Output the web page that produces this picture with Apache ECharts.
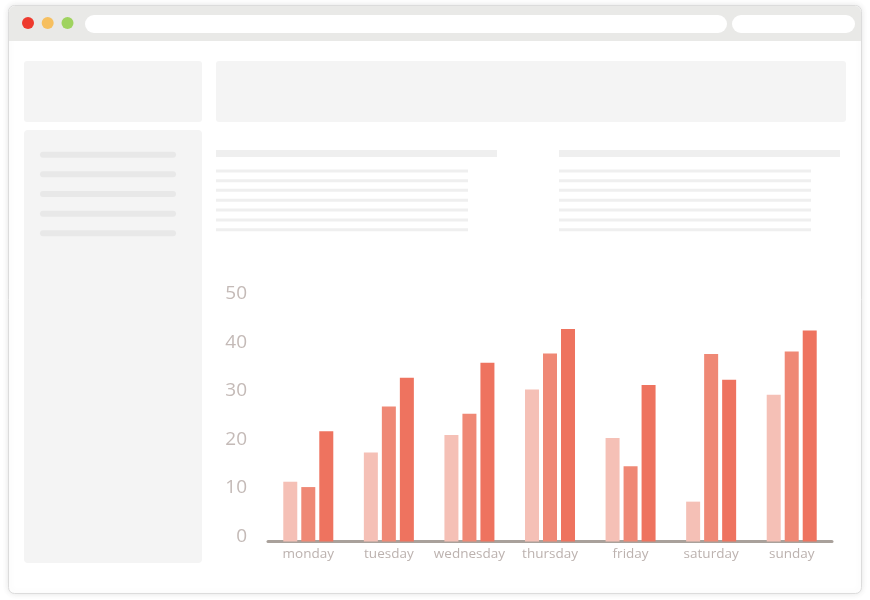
<!DOCTYPE html>
<html><head><meta charset="utf-8">
<script src="https://cdn.jsdelivr.net/npm/echarts@6/dist/echarts.min.js"></script>
<style>html,body{margin:0;padding:0;background:#fff}#c{width:870px;height:600px}</style>
</head><body><div id="c"></div>
<script>
const categories = ['monday', 'tuesday', 'wednesday', 'thursday', 'friday', 'saturday', 'sunday'];
const series1 = [12.3, 18.3, 21.9, 31.3, 21.3, 8.2, 30.2];
const series2 = [11.2, 27.8, 26.3, 38.7, 15.5, 38.6, 39.1];
const series3 = [22.7, 33.7, 36.8, 43.7, 32.2, 33.3, 43.4];
const yMin = 0, yMax = 50, yStep = 10;
const barColors = ['#f5c0b6', '#ef8875', '#ee735f'];

const FONT = '"Open Sans", "Noto Sans", sans-serif';
const light = '#f4f4f4', line = '#efefef';

const deco = [];
// window
deco.push({type:'rect', shape:{x:8.5,y:5.5,width:853,height:588,r:6}, style:{fill:'#fff', stroke:'#dcdcdc', lineWidth:1, shadowBlur:6, shadowColor:'rgba(0,0,0,0.10)'}, silent:true, z:-10});
deco.push({type:'rect', shape:{x:9,y:6,width:852,height:35,r:[6,6,0,0]}, style:{fill:'#e9e9e7'}, silent:true, z:-9});
deco.push({type:'circle', shape:{cx:28,cy:23,r:6}, style:{fill:'#ee3a2e'}, silent:true, z:-8});
deco.push({type:'circle', shape:{cx:47.7,cy:23,r:6}, style:{fill:'#f6bf5f'}, silent:true, z:-8});
deco.push({type:'circle', shape:{cx:67.5,cy:23,r:6}, style:{fill:'#9fd35f'}, silent:true, z:-8});
deco.push({type:'rect', shape:{x:85,y:15,width:642,height:18,r:9}, style:{fill:'#fff'}, silent:true, z:-8});
deco.push({type:'rect', shape:{x:732,y:15,width:123,height:18,r:9}, style:{fill:'#fff'}, silent:true, z:-8});
// boxes
deco.push({type:'rect', shape:{x:24,y:61,width:178,height:61,r:3}, style:{fill:light}, silent:true, z:-8});
deco.push({type:'rect', shape:{x:216,y:61,width:630,height:61,r:3}, style:{fill:light}, silent:true, z:-8});
deco.push({type:'rect', shape:{x:24,y:130,width:178,height:433,r:4}, style:{fill:light}, silent:true, z:-8});
[151.7, 171.3, 191, 210.7, 230.3].forEach(y => deco.push({type:'rect', shape:{x:40,y:y,width:136,height:6,r:3}, style:{fill:'#e8e8e8'}, silent:true, z:-7}));
deco.push({type:'rect', shape:{x:216,y:150,width:281,height:7}, style:{fill:line}, silent:true, z:-7});
deco.push({type:'rect', shape:{x:559,y:150,width:281,height:7}, style:{fill:line}, silent:true, z:-7});
[171, 180.7, 190.3, 200.3, 210, 220, 229.7].forEach(y => {
  deco.push({type:'rect', shape:{x:216,y:y-1.5,width:252,height:3}, style:{fill:line}, silent:true, z:-7});
  deco.push({type:'rect', shape:{x:559,y:y-1.5,width:252,height:3}, style:{fill:line}, silent:true, z:-7});
});

const chart = echarts.init(document.getElementById('c'), null, {renderer:'canvas'});
const mk = (data, i) => ({
  type:'bar', data:data, barWidth:14, barGap:'28.6%',
  itemStyle:{color:barColors[i]}, silent:true, animation:false
});
chart.setOption({
  animation:false,
  backgroundColor:'#fff',
  graphic:{elements:deco},
  grid:{left:268, right:38, top:298.5, bottom:58.5, containLabel:false},
  xAxis:{type:'category', data:categories,
    axisLine:{lineStyle:{color:'#a9a19b', width:3}},
    axisTick:{show:false},
    axisLabel:{interval:0, color:'#bcb2af', fontSize:13.5, fontFamily:FONT, margin:6}},
  yAxis:{type:'value', min:yMin, max:yMax, interval:yStep,
    axisLine:{show:false}, axisTick:{show:false}, splitLine:{show:false},
    axisLabel:{color:'#c4bab7', fontSize:19, fontFamily:FONT, margin:21, verticalAlign:'bottom', lineHeight:10}},
  series:[mk(series1,0), mk(series2,1), mk(series3,2)]
});
</script></body></html>
